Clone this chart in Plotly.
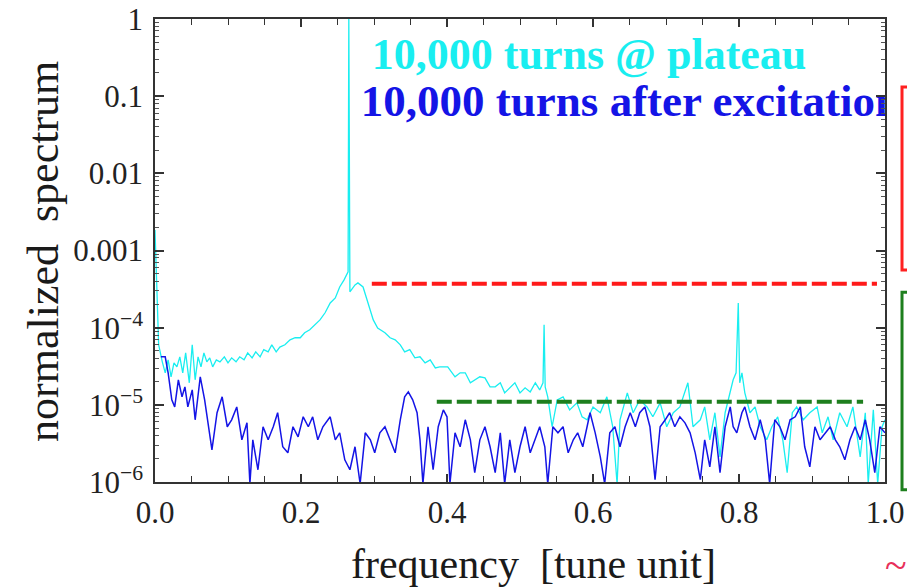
import plotly.graph_objects as go

# ---------------- data ----------------
plateau_freq = [0.000, 0.003, 0.005, 0.010, 0.014, 0.018, 0.022, 0.026, 0.030, 0.034,
                0.038, 0.042, 0.047, 0.051, 0.055, 0.059, 0.063, 0.067, 0.071, 0.075,
                0.079, 0.084, 0.089, 0.095, 0.100, 0.105, 0.111, 0.116, 0.122, 0.127,
                0.133, 0.138, 0.144, 0.149, 0.155, 0.160, 0.166, 0.171, 0.178, 0.185,
                0.192, 0.199, 0.205, 0.212, 0.219, 0.226, 0.233, 0.240, 0.247, 0.253,
                0.259, 0.263, 0.2645, 0.2655, 0.267, 0.274, 0.278, 0.285, 0.292, 0.299,
                0.305, 0.315, 0.322, 0.329, 0.336, 0.342, 0.349, 0.356, 0.363, 0.370,
                0.377, 0.384, 0.390, 0.401, 0.407, 0.411, 0.418, 0.425, 0.432, 0.438,
                0.445, 0.452, 0.459, 0.466, 0.473, 0.479, 0.486, 0.493, 0.500, 0.507,
                0.514, 0.521, 0.527, 0.5315, 0.533, 0.5345, 0.538, 0.544, 0.551, 0.559,
                0.568, 0.578, 0.585, 0.592, 0.600, 0.610, 0.619, 0.627, 0.633, 0.637,
                0.647, 0.655, 0.664, 0.674, 0.682, 0.692, 0.701, 0.710, 0.719, 0.730,
                0.737, 0.747, 0.753, 0.760, 0.767, 0.774, 0.781, 0.788, 0.792, 0.796,
                0.799, 0.801, 0.804, 0.808, 0.815, 0.822, 0.829, 0.838, 0.845, 0.853,
                0.860, 0.866, 0.873, 0.879, 0.888, 0.897, 0.907, 0.914, 0.922, 0.929,
                0.938, 0.948, 0.956, 0.966, 0.973, 0.977, 0.984, 0.990, 0.996, 1.000]
plateau_spec = [1.85e-3, 2.29e-4, 6.0e-5, 3.61e-5, 2.60e-5, 3.83e-5, 2.31e-5, 3.5e-5, 3.1e-5, 4.19e-5,
                2.6e-5, 4.72e-5, 1.93e-5, 6.0e-5, 2.11e-5, 4.19e-5, 3.1e-5, 4.72e-5, 3.61e-5, 4.06e-5,
                3.1e-5, 3.83e-5, 3.61e-5, 4.19e-5, 3.5e-5, 4.06e-5, 3.61e-5, 4.19e-5, 3.83e-5, 4.72e-5,
                4.06e-5, 4.86e-5, 4.19e-5, 5.2e-5, 4.86e-5, 6.0e-5, 4.86e-5, 5.6e-5, 6.0e-5, 6.95e-5,
                7.4e-5, 7.4e-5, 8.6e-5, 9.4e-5, 1.09e-4, 1.26e-4, 1.56e-4, 2.09e-4, 2.43e-4, 3.37e-4,
                4.16e-4, 5.1e-4, 5.3e-4, 1.0, 2.91e-4, 3.58e-4, 3.8e-4, 3.37e-4, 2.09e-4, 1.26e-4,
                9.9e-5, 8.6e-5, 7.4e-5, 6.95e-5, 6.0e-5, 4.86e-5, 5.2e-5, 4.06e-5, 4.19e-5, 3.5e-5,
                3.83e-5, 3.01e-5, 3.1e-5, 3.1e-5, 2.6e-5, 2.31e-5, 2.6e-5, 2.6e-5, 1.93e-5, 2.11e-5,
                2.31e-5, 2.24e-5, 1.71e-5, 1.71e-5, 1.93e-5, 1.43e-5, 1.66e-5, 1.93e-5, 1.43e-5, 1.66e-5,
                1.47e-5, 1.93e-5, 1.56e-5, 1.93e-5, 1.09e-4, 1.71e-5, 1.27e-5, 5.2e-6, 1.16e-5, 1.27e-5,
                8.6e-6, 1.06e-5, 7.0e-6, 6.4e-6, 9.4e-6, 7.9e-6, 1.27e-5, 5.2e-6, 9.5e-7, 6.4e-6,
                1.43e-5, 7.9e-6, 1.16e-5, 9.4e-6, 7.0e-6, 1.06e-5, 5.2e-6, 7.9e-6, 9.4e-6, 1.93e-5,
                5.2e-6, 6.4e-6, 9.4e-6, 3.52e-6, 7.9e-6, 2.12e-6, 7.9e-6, 1.56e-5, 2.11e-5, 2.6e-5,
                2.09e-4, 1.93e-5, 2.6e-5, 1.43e-5, 7.9e-6, 9.4e-6, 5.2e-6, 3.52e-6, 5.2e-6, 7.0e-6,
                3.52e-6, 1.32e-6, 7.9e-6, 9.4e-6, 6.4e-6, 7.9e-6, 9.4e-6, 4.34e-6, 7.0e-6, 3.52e-6,
                7.9e-6, 5.2e-6, 9.4e-6, 2.12e-6, 7.9e-6, 9.5e-7, 8.6e-6, 9.5e-7, 5.2e-6, 6.4e-6]

excit_freq = [0.008, 0.014, 0.018, 0.023, 0.027, 0.032, 0.037, 0.041, 0.045, 0.051,
              0.055, 0.062, 0.068, 0.073, 0.078, 0.085, 0.092, 0.099, 0.105, 0.112,
              0.119, 0.126, 0.130, 0.134, 0.141, 0.148, 0.155, 0.162, 0.168, 0.175,
              0.182, 0.189, 0.196, 0.203, 0.210, 0.216, 0.223, 0.230, 0.240, 0.247,
              0.253, 0.260, 0.267, 0.274, 0.281, 0.288, 0.295, 0.301, 0.308, 0.315,
              0.322, 0.329, 0.336, 0.342, 0.347, 0.353, 0.359, 0.363, 0.367, 0.374,
              0.381, 0.388, 0.395, 0.400, 0.404, 0.411, 0.418, 0.425, 0.432, 0.438,
              0.445, 0.452, 0.459, 0.466, 0.473, 0.479, 0.486, 0.493, 0.500, 0.507,
              0.514, 0.521, 0.527, 0.534, 0.538, 0.545, 0.552, 0.559, 0.566, 0.573,
              0.579, 0.586, 0.596, 0.603, 0.610, 0.616, 0.623, 0.630, 0.637, 0.644,
              0.651, 0.658, 0.664, 0.671, 0.678, 0.685, 0.692, 0.699, 0.705, 0.712,
              0.719, 0.726, 0.733, 0.740, 0.747, 0.753, 0.760, 0.767, 0.774, 0.781,
              0.788, 0.792, 0.797, 0.804, 0.808, 0.815, 0.822, 0.829, 0.836, 0.842,
              0.849, 0.856, 0.863, 0.870, 0.877, 0.884, 0.890, 0.897, 0.904, 0.911,
              0.918, 0.925, 0.932, 0.938, 0.945, 0.952, 0.959, 0.966, 0.973, 0.979,
              0.986, 0.993, 1.000]
excit_spec = [4.19e-5, 4.19e-5, 2.6e-5, 1.16e-5, 9.4e-6, 2.11e-5, 1.27e-5, 1.71e-5, 9.4e-6, 1.56e-5,
              6.4e-6, 2.31e-5, 1.16e-5, 5.85e-6, 2.61e-6, 7.9e-6, 1.27e-5, 5.2e-6, 6.4e-6, 9.4e-6,
              3.52e-6, 5.85e-6, 9.5e-7, 3.52e-6, 1.44e-6, 5.2e-6, 3.52e-6, 5.2e-6, 7.9e-6, 2.86e-6,
              2.39e-6, 5.2e-6, 3.85e-6, 7.0e-6, 5.2e-6, 7.0e-6, 3.52e-6, 5.2e-6, 7.0e-6, 3.52e-6,
              4.34e-6, 1.94e-6, 1.44e-6, 2.86e-6, 9.5e-7, 4.34e-6, 3.52e-6, 2.39e-6, 4.34e-6, 5.2e-6,
              3.52e-6, 2.39e-6, 6.4e-6, 1.27e-5, 1.47e-5, 1.16e-5, 7.9e-6, 3.52e-6, 9.5e-7, 5.2e-6,
              1.44e-6, 5.2e-6, 8.6e-6, 7.0e-6, 9.5e-7, 4.34e-6, 2.86e-6, 6.4e-6, 3.52e-6, 1.32e-6,
              3.52e-6, 5.2e-6, 2.86e-6, 1.32e-6, 4.34e-6, 9.5e-7, 3.52e-6, 1.32e-6, 2.86e-6, 5.2e-6,
              2.39e-6, 3.52e-6, 5.2e-6, 2.86e-6, 9.5e-7, 5.2e-6, 4.34e-6, 5.2e-6, 2.39e-6, 3.52e-6,
              4.34e-6, 2.86e-6, 7.9e-6, 4.34e-6, 2.12e-6, 9.5e-7, 4.34e-6, 5.2e-6, 2.86e-6, 5.2e-6,
              7.9e-6, 5.2e-6, 7.9e-6, 9.4e-6, 5.2e-6, 1.07e-6, 5.2e-6, 6.4e-6, 7.9e-6, 5.2e-6,
              7.0e-6, 5.85e-6, 4.34e-6, 2.39e-6, 1.07e-6, 3.52e-6, 1.57e-6, 5.2e-6, 1.32e-6, 5.2e-6,
              9.4e-6, 5.2e-6, 4.34e-6, 7.9e-6, 9.4e-6, 5.2e-6, 3.52e-6, 6.4e-6, 3.52e-6, 9.5e-7,
              6.4e-6, 5.2e-6, 3.52e-6, 6.4e-6, 7.0e-6, 9.4e-6, 2.86e-6, 1.57e-6, 5.2e-6, 3.52e-6,
              4.34e-6, 5.2e-6, 3.52e-6, 2.86e-6, 1.94e-6, 3.52e-6, 5.2e-6, 3.52e-6, 6.4e-6, 3.52e-6,
              1.32e-6, 5.2e-6, 4.34e-6]

# threshold levels (dashed lines)
red_level = 3.7e-4
red_span = [0.297, 0.989]
green_level = 1.1e-5
green_span = [0.386, 0.970]

# ticks
x_tickvals = [0.0, 0.2, 0.4, 0.6, 0.8, 1.0]
x_ticktext = ["0.0", "0.2", "0.4", "0.6", "0.8", "1.0"]
y_tickvals = [1e-6, 1e-5, 1e-4, 1e-3, 1e-2, 1e-1, 1]
y_ticktext = ["10<sup>−6</sup>", "10<sup>−5</sup>", "10<sup>−4</sup>", "0.001", "0.01", "0.1", "1"]
y_minor = [m * 10.0 ** e for e in range(-6, 0) for m in range(2, 10)]

label_plateau = "10,000 turns @ plateau"
label_excit = "10,000 turns after excitation"

CYAN = "#19EEF0"
BLUE = "#1414E6"
SERIF = "Liberation Serif, Times New Roman, serif"

fig = go.Figure()
fig.add_trace(go.Scatter(x=plateau_freq, y=plateau_spec, mode="lines",
                         line=dict(color=CYAN, width=1.3), showlegend=False))
fig.add_trace(go.Scatter(x=excit_freq, y=excit_spec, mode="lines",
                         line=dict(color=BLUE, width=1.5), showlegend=False))
fig.add_trace(go.Scatter(x=red_span, y=[red_level, red_level], mode="lines",
                         line=dict(color="#FF1A1A", width=4, dash="15px,5px"), showlegend=False))
fig.add_trace(go.Scatter(x=green_span, y=[green_level, green_level], mode="lines",
                         line=dict(color="#1E7F1E", width=4, dash="15px,5px"), showlegend=False))
# labels as clipped text traces
fig.add_trace(go.Scatter(x=[0.297], y=[0.31], mode="text", text=[label_plateau],
                         textposition="middle right", cliponaxis=True,
                         textfont=dict(family=SERIF, size=44, color=CYAN, weight="bold"),
                         showlegend=False))
fig.add_trace(go.Scatter(x=[0.282], y=[0.078], mode="text", text=[label_excit],
                         textposition="middle right", cliponaxis=True,
                         textfont=dict(family=SERIF, size=45, color=BLUE, weight="bold"),
                         showlegend=False))

axis_common = dict(showline=True, linecolor="#333333", linewidth=1.5, mirror="ticks",
                   ticks="inside", tickcolor="#333333", tickwidth=1.5, showgrid=False,
                   zeroline=False, tickfont=dict(family=SERIF, size=31, color="#222222"),
                   automargin=False, ticklabeloverflow="allow")

fig.update_xaxes(range=[0, 1], tickmode="array", tickvals=x_tickvals, ticktext=x_ticktext,
                 ticklen=8, ticklabelstandoff=2,
                 minor=dict(ticks="inside", dtick=0.05, ticklen=6,
                            tickcolor="#333333", tickwidth=1.2),
                 **axis_common)
fig.update_yaxes(type="log", range=[-6, 0], tickmode="array", tickvals=y_tickvals,
                 ticktext=y_ticktext, ticklen=9, ticklabelstandoff=4,
                 minor=dict(ticks="inside", tickmode="array", tickvals=y_minor, ticklen=4,
                            tickcolor="#555555", tickwidth=1),
                 **axis_common)

fig.update_layout(
    width=907, height=587, autosize=False,
    margin=dict(l=155, r=22, t=19, b=105, autoexpand=False),
    plot_bgcolor="white", paper_bgcolor="white",
    annotations=[
        dict(text="frequency  [tune unit]", xref="paper", yref="paper", x=0.519, y=-0.178,
             xanchor="center", yanchor="middle", showarrow=False,
             font=dict(family=SERIF, size=42, color="#1a1a1a")),
        dict(text="normalized  spectrum", xref="paper", yref="paper", x=-0.152, y=0.497,
             xanchor="center", yanchor="middle", textangle=-90, showarrow=False,
             font=dict(family=SERIF, size=44, color="#1a1a1a")),
        dict(text="~", xref="paper", yref="paper", x=1.0145, y=-0.18,
             xanchor="center", yanchor="middle", showarrow=False,
             font=dict(family=SERIF, size=40, color="#E8305A")),
    ],
    shapes=[
        dict(type="rect", xref="paper", yref="paper", x0=1.0233, x1=1.06, y0=0.458, y1=0.853,
             line=dict(color="#FF2020", width=3)),
        dict(type="rect", xref="paper", yref="paper", x0=1.0233, x1=1.06, y0=-0.017, y1=0.410,
             line=dict(color="#1E7F1E", width=3)),
    ],
)

# remove the default page margin / scrollbars so the figure sits at the window's top-left
page_fix = ("document.body.style.margin='0px';"
            "document.body.style.overflow='hidden';"
            "document.documentElement.style.overflow='hidden';")
fig.write_html("out.html", post_script=page_fix, config={"displayModeBar": False})
